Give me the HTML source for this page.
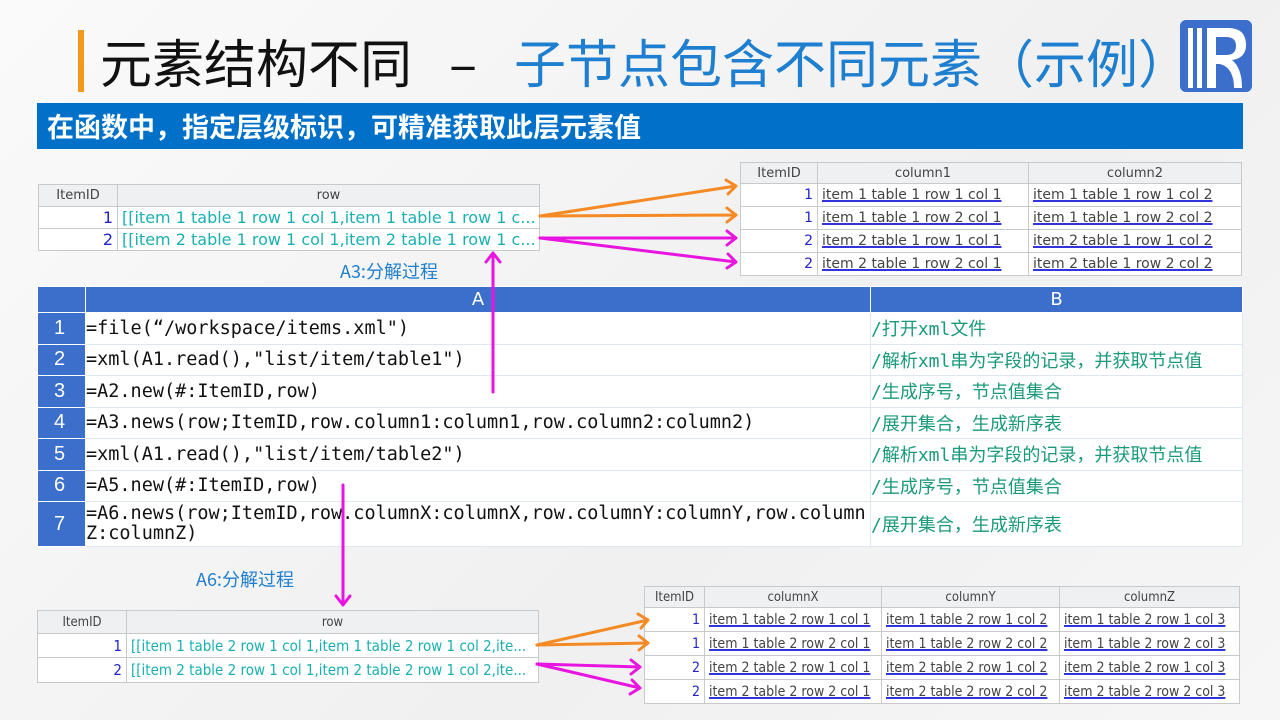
<!DOCTYPE html>
<html><head><meta charset="utf-8"><style>
*{margin:0;padding:0;box-sizing:border-box}
body{width:1280px;height:720px;position:relative;overflow:hidden;background:linear-gradient(135deg,#fafafa,#f0f0f0 60%,#f6f6f6);font-family:"Liberation Sans","Noto Sans CJK SC",sans-serif}
.a{position:absolute}
table{border-collapse:collapse;position:absolute;font-family:"DejaVu Sans","Liberation Sans",sans-serif;font-size:14px;background:#fff;table-layout:fixed}
td{border:1px solid #c6cacd;padding:0 4px;white-space:nowrap;overflow:hidden}
th{border:1px solid #c6cacd;background:#eef0f2;font-weight:normal;color:#444;font-size:13px}
.n{text-align:right;color:#2222cc}
.t{color:#1ab0b0}
.u{color:#444;text-decoration:underline;text-decoration-color:#3333dd;text-decoration-thickness:2px}
.g td{height:31.5px;font-family:"DejaVu Sans Mono","Liberation Mono",monospace;font-size:18.5px;border:1px solid #dfe6f0;color:#111;padding-left:0}
.g td.r{background:#3b6fcb;color:#fff;text-align:center;font-family:"Liberation Sans",sans-serif;font-size:20px;border-color:#fff}
.g td.b{color:#1a9a7a;font-family:"DejaVu Sans Mono","Noto Sans CJK SC",monospace;font-size:18px}
.g th{background:#3b6fcb;color:#fff;font-size:18px;height:26px;border:1px solid #fff}
</style></head><body>
<div class="a" style="left:78px;top:30px;width:6px;height:62px;background:#f39a1e"></div>
<div class="a" style="left:100px;top:26px;font-size:52px;color:#111;font-family:'Noto Sans CJK SC',sans-serif;line-height:70px;white-space:nowrap">元素结构不同<span style="display:inline-block;width:102px;text-align:center">–</span><span style="color:#1e7fd0">子节点包含不同元素（示例）</span></div>
<svg class="a" style="left:1180px;top:20px" width="72" height="74" viewBox="0 0 72 74"><rect x="0" y="0" width="72" height="72" rx="6" fill="#3b6fcb"/><rect x="8" y="8" width="5" height="60" fill="#fff"/><rect x="17" y="8" width="5" height="60" fill="#fff"/><path d="M27 8 H48 Q66 8 66 25 Q66 38 52 40 Q62 48 62 68 H54 Q54 48 40 44 H36 V68 H27 Z M36 17 V35 H46 Q56 35 56 26 Q56 17 46 17 Z" fill="#fff"/></svg>
<div class="a" style="left:37px;top:103px;width:1206px;height:46px;background:#0070c8;color:#fff;font-size:27px;font-weight:bold;line-height:46px;padding-left:10px;font-family:'Noto Sans CJK SC',sans-serif;white-space:nowrap">在函数中，指定层级标识，可精准获取此层元素值</div>

<table style="left:38px;top:184px;width:502px;font-size:16px"><tr style="height:22px"><th style="width:79px">ItemID</th><th>row</th></tr>
<tr style="height:22px"><td class="n">1</td><td class="t">[[item 1 table 1 row 1 col 1,item 1 table 1 row 1 c...</td></tr>
<tr style="height:22px"><td class="n">2</td><td class="t">[[item 2 table 1 row 1 col 1,item 2 table 1 row 1 c...</td></tr></table>

<table style="left:740px;top:162px;width:502px;font-size:14px"><tr style="height:21px"><th style="width:77px">ItemID</th><th style="width:211px">column1</th><th>column2</th></tr>
<tr style="height:23px"><td class="n">1</td><td class="u">item 1 table 1 row 1 col 1</td><td class="u">item 1 table 1 row 1 col 2</td></tr>
<tr style="height:23px"><td class="n">1</td><td class="u">item 1 table 1 row 2 col 1</td><td class="u">item 1 table 1 row 2 col 2</td></tr>
<tr style="height:23px"><td class="n">2</td><td class="u">item 2 table 1 row 1 col 1</td><td class="u">item 2 table 1 row 1 col 2</td></tr>
<tr style="height:23px"><td class="n">2</td><td class="u">item 2 table 1 row 2 col 1</td><td class="u">item 2 table 1 row 2 col 2</td></tr></table>

<div class="a" style="left:340px;top:258px;color:#1e7fd0;font-size:18px;font-family:'Noto Sans CJK SC',sans-serif">A3:分解过程</div>
<div class="a" style="left:196px;top:566px;color:#1e7fd0;font-size:18px;font-family:'Noto Sans CJK SC',sans-serif">A6:分解过程</div>

<table class="g" style="left:37px;top:286px;width:1206px">
<tr><th style="width:48px"></th><th style="width:785px">A</th><th>B</th></tr>
<tr><td class="r">1</td><td>=file(“/workspace/items.xml")</td><td class="b">/打开xml文件</td></tr>
<tr><td class="r">2</td><td>=xml(A1.read(),"list/item/table1")</td><td class="b">/解析xml串为字段的记录，并获取节点值</td></tr>
<tr><td class="r">3</td><td>=A2.new(#:ItemID,row)</td><td class="b">/生成序号，节点值集合</td></tr>
<tr><td class="r">4</td><td>=A3.news(row;ItemID,row.column1:column1,row.column2:column2)</td><td class="b">/展开集合，生成新序表</td></tr>
<tr><td class="r">5</td><td>=xml(A1.read(),"list/item/table2")</td><td class="b">/解析xml串为字段的记录，并获取节点值</td></tr>
<tr><td class="r">6</td><td>=A5.new(#:ItemID,row)</td><td class="b">/生成序号，节点值集合</td></tr>
<tr style="height:45px"><td class="r">7</td><td style="white-space:normal;line-height:20px;word-break:break-all">=A6.news(row;ItemID,row.columnX:columnX,row.columnY:columnY,row.columnZ:columnZ)</td><td class="b">/展开集合，生成新序表</td></tr>
</table>

<table style="left:37px;top:610px;width:502px;font-family:'DejaVu Sans Condensed','Liberation Sans Narrow',sans-serif;font-size:15px"><tr style="height:23px"><th style="width:89px">ItemID</th><th>row</th></tr>
<tr style="height:24px"><td class="n">1</td><td class="t">[[item 1 table 2 row 1 col 1,item 1 table 2 row 1 col 2,ite...</td></tr>
<tr style="height:25px"><td class="n">2</td><td class="t">[[item 2 table 2 row 1 col 1,item 2 table 2 row 1 col 2,ite...</td></tr></table>

<table style="left:644px;top:586px;width:596px;font-size:14px;font-family:'Liberation Sans Narrow','DejaVu Sans Condensed',sans-serif"><tr style="height:21px"><th style="width:60px">ItemID</th><th style="width:177px">columnX</th><th style="width:178px">columnY</th><th>columnZ</th></tr>
<tr style="height:24px"><td class="n">1</td><td class="u">item 1 table 2 row 1 col 1</td><td class="u">item 1 table 2 row 1 col 2</td><td class="u">item 1 table 2 row 1 col 3</td></tr>
<tr style="height:24px"><td class="n">1</td><td class="u">item 1 table 2 row 2 col 1</td><td class="u">item 1 table 2 row 2 col 2</td><td class="u">item 1 table 2 row 2 col 3</td></tr>
<tr style="height:24px"><td class="n">2</td><td class="u">item 2 table 2 row 1 col 1</td><td class="u">item 2 table 2 row 1 col 2</td><td class="u">item 2 table 2 row 1 col 3</td></tr>
<tr style="height:24px"><td class="n">2</td><td class="u">item 2 table 2 row 2 col 1</td><td class="u">item 2 table 2 row 2 col 2</td><td class="u">item 2 table 2 row 2 col 3</td></tr></table>

<svg class="a" style="left:0;top:0" width="1280" height="720" fill="none" stroke-width="3" stroke-linecap="round" stroke-linejoin="round">
<g stroke="#f58a25"><path d="M540 216 L736 186 M726 180 L736 186 L728 194"/><path d="M540 216 L736 215 M727 208 L736 215 L727 222"/>
<path d="M537 645 L648 620 M638 614 L648 620 L641 628"/><path d="M537 645 L648 643 M639 636 L648 643 L639 650"/></g>
<g stroke="#e815e0"><path d="M540 238 L736 238 M727 231 L736 238 L727 245"/><path d="M540 238 L736 262 M728 254 L736 262 L727 268"/>
<path d="M537 664 L640 667 M631 660 L640 667 L631 674"/><path d="M537 664 L640 688 M632 680 L640 688 L630 694"/>
<path d="M493 392 L493 253 M486 262 L493 253 L500 262"/><path d="M343 485 L343 605 M336 596 L343 605 L350 596"/></g>
</svg>
</body></html>
